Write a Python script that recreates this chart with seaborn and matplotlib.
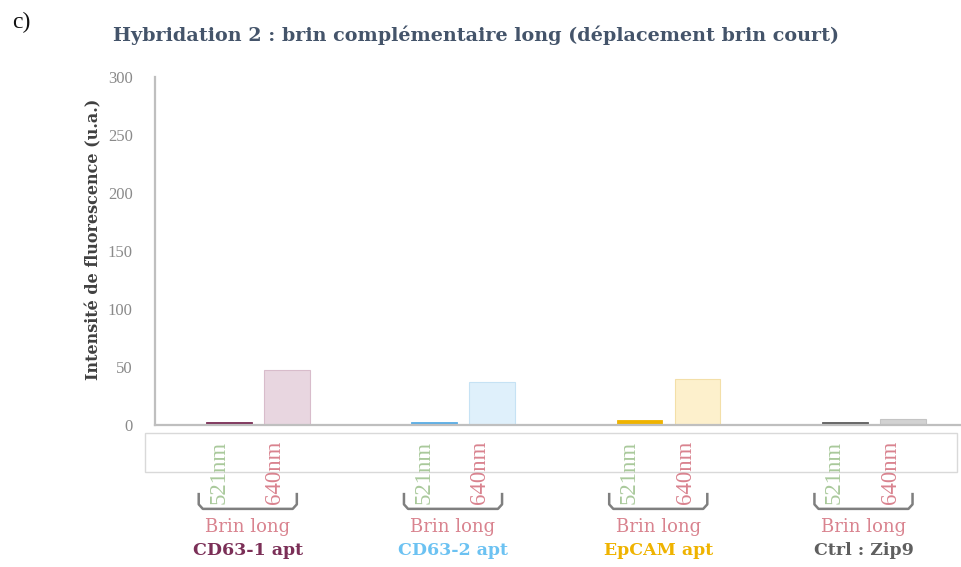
import matplotlib
matplotlib.use("Agg")
import matplotlib.pyplot as plt
from matplotlib.patches import Rectangle
from matplotlib.transforms import blended_transform_factory
import numpy as np
import pandas as pd
import seaborn as sns

# Data
groups = ["CD63-1 apt", "CD63-2 apt", "EpCAM apt", "Ctrl : Zip9"]
wavelengths = ["521nm", "640nm"]
values_521 = [3, 3, 4, 3]
values_640 = [47, 37, 40, 5]
strand_label = "Brin long"
yticks = [0, 50, 100, 150, 200, 250, 300]

# Colours per group: dark shade (521 nm) / pale shade (640 nm)
dark_colors = ["#7b2f57", "#5aaee6", "#efb300", "#5f5f5f"]
light_colors = ["#e8d6e0", "#dff0fb", "#fdf0cc", "#d2d2d2"]
light_edges = ["#d8bccb", "#c6e2f4", "#f3dfa8", "#c4c4c4"]
name_colors = ["#7b2f57", "#6cc2f2", "#efb300", "#5f5f5f"]

df = pd.DataFrame({
    "group": np.repeat(groups, 2),
    "wl": wavelengths * len(groups),
    "value": [v for pair in zip(values_521, values_640) for v in pair],
})

sns.set_theme(style="white")
plt.rcParams["font.family"] = ["Liberation Serif", "DejaVu Serif"]
WIDE = ["DejaVu Serif"]

fig = plt.figure(figsize=(9.62, 5.67), dpi=100)
ax = fig.add_axes([155 / 962, (567 - 425) / 567, (962 - 155) / 962, 348 / 567])

sns.barplot(data=df, x="group", y="value", hue="wl", order=groups,
            hue_order=wavelengths, width=0.566, gap=0.21, legend=False,
            ax=ax, errorbar=None, palette=["#888888", "#cccccc"])

# Recolour each bar according to its group and wavelength
for p in ax.patches:
    cx = p.get_x() + p.get_width() / 2
    g = int(round(cx))
    if cx < g:
        p.set_facecolor(dark_colors[g])
        p.set_edgecolor(dark_colors[g])
        p.set_linewidth(0.6)
    else:
        p.set_facecolor(light_colors[g])
        p.set_edgecolor(light_edges[g])
        p.set_linewidth(0.8)

ax.set_xlim(-0.502, 3.43)
ax.set_ylim(0, 300)
ax.set_yticks(yticks)
ax.set_yticklabels([str(t) for t in yticks], color="#8a8a8a", fontsize=12)
ax.tick_params(axis="y", direction="in", length=4, width=1, color="#bfbfbf", pad=16)
ax.set_xticks([])
ax.set_xlabel("")
ax.set_ylabel("Intensité de fluorescence (u.a.)", fontsize=11.5, fontweight="bold",
              color="#404040", family=WIDE)
ax.yaxis.set_label_coords(-0.0657, 0.532)
for s in ["top", "right"]:
    ax.spines[s].set_visible(False)
for s in ["left", "bottom"]:
    ax.spines[s].set_color("#bfbfbf")
    ax.spines[s].set_linewidth(1.6)

# Label area beneath the axis
trans = blended_transform_factory(ax.transData, ax.transAxes)
ax.add_patch(Rectangle((-0.0124, -0.134), 1.0124 - 0.006, 0.112, transform=ax.transAxes,
                       facecolor="none", edgecolor="#d9d9d9", lw=1.0, clip_on=False))

shift = -0.05
for i, g in enumerate(groups):
    c = i + shift
    ax.text(c - 0.141, -0.137, "521nm", rotation=90, ha="center", va="center",
            color="#a9c99b", fontsize=16.5, transform=trans, clip_on=False)
    ax.text(c + 0.141 - 0.01, -0.137, "640nm", rotation=90, ha="center", va="center",
            color="#d9838f", fontsize=16.5, transform=trans, clip_on=False)
    # bracket
    hw = 0.239
    r = 0.02
    xs = [c - hw, c - hw, c - hw + r, c + hw - r, c + hw, c + hw]
    ys = [-0.195, -0.228, -0.241, -0.241, -0.228, -0.195]
    ax.plot(xs, ys, color="#7f7f7f", lw=1.8, transform=trans, clip_on=False,
            solid_capstyle="butt", solid_joinstyle="round")
    ax.text(c, -0.293, strand_label, ha="center", va="center", color="#d9838f",
            fontsize=13, transform=trans, clip_on=False, family=WIDE)
    ax.text(c, -0.362, g, ha="center", va="center", color=name_colors[i],
            fontsize=12.5, fontweight="bold", transform=trans, clip_on=False,
            family=WIDE)

fig.text(113 / 962, 1 - 35 / 567,
         "Hybridation 2 : brin complémentaire long (déplacement brin court)",
         ha="left", va="center", fontsize=13.8, fontweight="bold", color="#44546a",
         family=WIDE)
fig.text(12 / 962, 1 - 22 / 567, "c)", ha="left", va="center", fontsize=17,
         color="#111111")

fig.savefig("out.png", dpi=100)
